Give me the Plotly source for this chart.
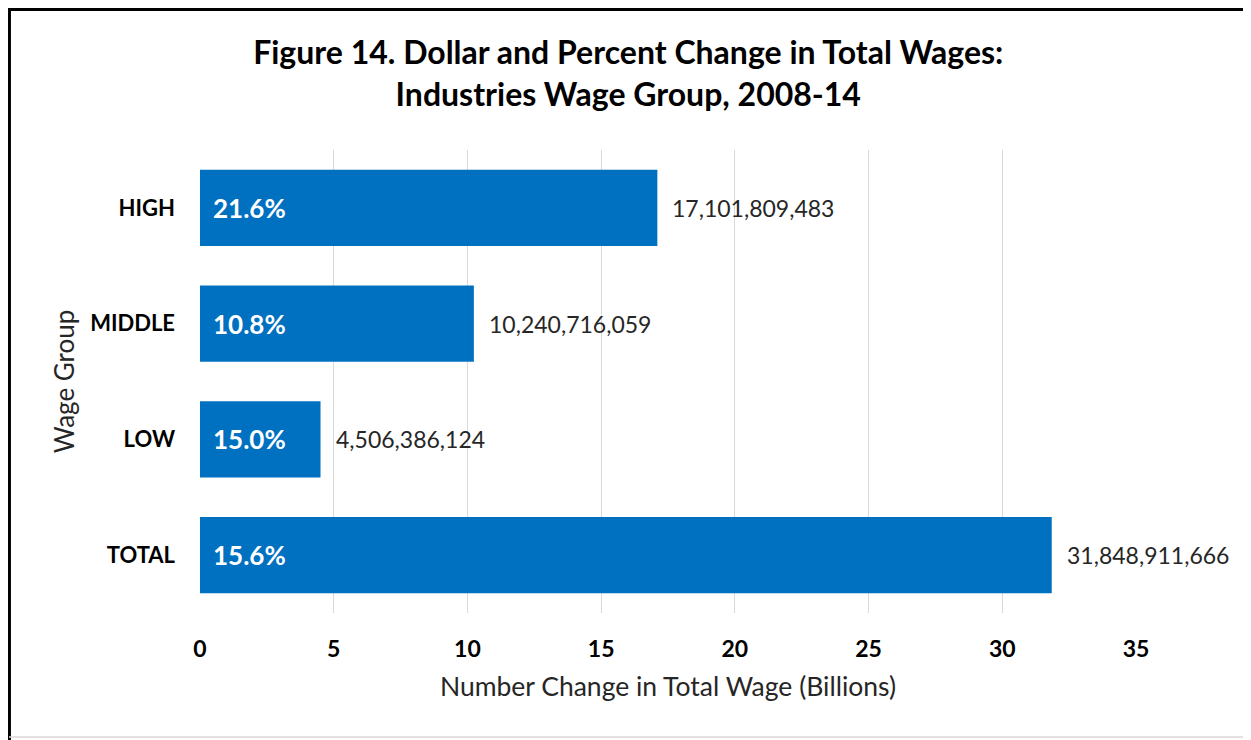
import plotly.graph_objects as go

# data, bottom to top as drawn
groups = ['TOTAL', 'LOW', 'MIDDLE', 'HIGH']
wage_change = [31848911666, 4506386124, 10240716059, 17101809483]
pct_change = [15.6, 15.0, 10.8, 21.6]
x_ticks = [0, 5, 10, 15, 20, 25, 30, 35]

billions = [v / 1e9 for v in wage_change]
font = 'Lato'

fig = go.Figure()
fig.add_trace(go.Bar(
    y=groups, x=billions, orientation='h',
    marker=dict(color='#0070C0', line=dict(width=0)),
    hoverinfo='skip', showlegend=False,
))

# percent labels inside each bar, dollar labels past the bar end
for g, b, v, p in zip(groups, billions, wage_change, pct_change):
    fig.add_annotation(x=0, y=g, text=f'<b>{p:.1f}%</b>', showarrow=False,
                       xanchor='left', xshift=11,
                       font=dict(family=font, size=26, color='white'))
    fig.add_annotation(x=b, y=g, text=f'{v:,}', showarrow=False,
                       xanchor='left', xshift=13,
                       font=dict(family=font, size=23, color='#262626'))

# frame: thick black top/left, thin grey right/bottom
fig.add_shape(type='line', xref='paper', yref='paper', x0=-0.2041, x1=-0.2041, y0=-0.3, y1=1.31,
              line=dict(color='black', width=4))
fig.add_shape(type='line', xref='paper', yref='paper', x0=-0.21, x1=1.125, y0=1.3045, y1=1.3045,
              line=dict(color='black', width=4))
fig.add_shape(type='line', xref='paper', yref='paper', x0=1.1197, x1=1.1197, y0=-0.2678, y1=1.3045,
              line=dict(color='#D9D9D9', width=1.5))
fig.add_shape(type='line', xref='paper', yref='paper', x0=-0.2041, x1=1.1197, y0=-0.2678, y1=-0.2678,
              line=dict(color='#D9D9D9', width=1.5))

fig.update_layout(
    width=1243, height=732,
    margin=dict(l=192, r=115, t=142, b=127),
    paper_bgcolor='white', plot_bgcolor='white',
    bargap=0.34,
    font=dict(family=font, color='black'),
    title=dict(text='<b>Figure 14. Dollar and Percent Change in Total Wages:<br>Industries Wage Group, 2008-14</b>',
               x=0.499, xanchor='center', xref='container',
               y=0.923, yanchor='middle', yref='container',
               font=dict(family=font, size=32, color='black')),
    xaxis=dict(range=[0, 35], tickvals=x_ticks, showgrid=True, gridcolor='#D9D9D9', gridwidth=1,
               zeroline=False, showline=False, ticks='',
               tickfont=dict(family=font, size=23, color='black', weight='bold'), ticklabelstandoff=20,
               title=dict(text='Number Change in Total Wage (Billions)', standoff=16,
                          font=dict(family=font, size=26.5, color='#262626'))),
    yaxis=dict(showgrid=False, zeroline=False, showline=False, ticks='',
               tickfont=dict(family=font, size=22, color='black', weight='bold'), ticklabelstandoff=24,
               title=dict(text='Wage Group', standoff=8,
                          font=dict(family=font, size=26, color='#262626'))),
)

fig.write_html('out.html')
